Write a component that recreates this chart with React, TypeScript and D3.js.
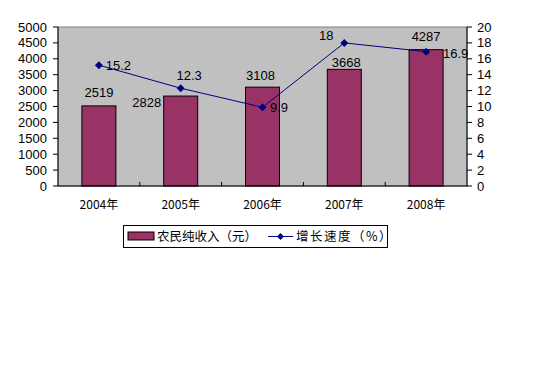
import React from "react";
import * as d3 from "d3";

const categories = ["2004年", "2005年", "2006年", "2007年", "2008年"];
const income = [2519, 2828, 3108, 3668, 4287];
const growth = [15.2, 12.3, 9.9, 18, 16.9];
const leftTicks = [0, 500, 1000, 1500, 2000, 2500, 3000, 3500, 4000, 4500, 5000];
const rightTicks = [0, 2, 4, 6, 8, 10, 12, 14, 16, 18, 20];
const legendLabels = ["农民纯收入（元）", "增长速度（%）"];

// label offsets (layout) relative to mark anchors: [dx, baseline dy]
const barLabelOffsets: [number, number][] = [[0, -9], [-34, 11], [-2, -7], [2, -2.5], [0, -9]];
// [dx, center dy]
const lineLabelOffsets: [number, number][] = [[19.5, 0], [8.5, -13], [16.5, 0], [-18, -7], [29.5, 2]];

export default function App() {
  const W = 536, H = 384;
  const left = 58, right = 467, top = 27, bottom = 186;
  const x = d3.scaleBand<string>().domain(categories).range([left, right]).paddingInner(0).paddingOuter(0);
  const bw = x.bandwidth();
  const barW = 34;
  const yL = d3.scaleLinear().domain([0, 5000]).range([bottom, top]);
  const yR = d3.scaleLinear().domain([0, 20]).range([bottom, top]);
  const line = d3.line<number>()
    .x((_, i) => (x(categories[i]) as number) + bw / 2)
    .y((d) => yR(d));
  const font = "'Liberation Sans', Arial, 'Noto Sans CJK SC', sans-serif";
  const cjk = "'Noto Sans CJK SC', 'Liberation Sans', sans-serif";
  const diamond = (cx: number, cy: number, r = 4) =>
    `M${cx},${cy - r}L${cx + r},${cy}L${cx},${cy + r}L${cx - r},${cy}Z`;

  return (
    <svg width={W} height={H} style={{ position: "absolute", left: 0, top: 0, background: "#fff" }}>
      <rect x={0} y={0} width={W} height={H} fill="#fff" />
      <rect x={left} y={top} width={right - left} height={bottom - top} fill="#c0c0c0" stroke="#808080" strokeWidth={1} />
      {/* bars */}
      {income.map((v, i) => {
        const cx = (x(categories[i]) as number) + bw / 2;
        return (
          <rect key={i} x={cx - barW / 2} y={yL(v)} width={barW} height={bottom - yL(v)}
            fill="#993366" stroke="#000" strokeWidth={1} />
        );
      })}
      {/* axes */}
      <line x1={left} y1={top} x2={left} y2={bottom} stroke="#000" />
      <line x1={right} y1={top} x2={right} y2={bottom} stroke="#000" />
      <line x1={left} y1={bottom} x2={right} y2={bottom} stroke="#000" />
      {leftTicks.map((t) => (
        <g key={"l" + t}>
          <line x1={left - 5} x2={left} y1={yL(t)} y2={yL(t)} stroke="#000" />
          <text x={left - 11} y={yL(t)} dy="0.35em" textAnchor="end" fontFamily={font} fontSize={13}>{t}</text>
        </g>
      ))}
      {rightTicks.map((t) => (
        <g key={"r" + t}>
          <line x1={right} x2={right + 5} y1={yR(t)} y2={yR(t)} stroke="#000" />
          <text x={right + 10} y={yR(t)} dy="0.35em" textAnchor="start" fontFamily={font} fontSize={13}>{t}</text>
        </g>
      ))}
      {categories.slice(1).map((c) => (
        <line key={"t" + c} x1={x(c) as number} x2={x(c) as number} y1={bottom - 4} y2={bottom} stroke="#000" />
      ))}
      {categories.map((c) => (
        <text key={"c" + c} x={(x(c) as number) + bw / 2} y={205} dy="0.35em" textAnchor="middle" fontFamily={cjk} fontSize={12}>{c}</text>
      ))}
      {/* line */}
      <path d={line(growth) || ""} fill="none" stroke="#000080" strokeWidth={1} />
      {growth.map((v, i) => {
        const cx = (x(categories[i]) as number) + bw / 2;
        return <path key={"m" + i} d={diamond(cx, yR(v))} fill="#000080" />;
      })}
      {/* bar labels */}
      {income.map((v, i) => {
        const cx = (x(categories[i]) as number) + bw / 2;
        const [dx, dy] = barLabelOffsets[i];
        return (
          <text key={"bl" + i} x={cx + dx} y={yL(v) + dy} textAnchor="middle" fontFamily={font} fontSize={13}>{v}</text>
        );
      })}
      {/* line labels */}
      {growth.map((v, i) => {
        const cx = (x(categories[i]) as number) + bw / 2;
        const [dx, dy] = lineLabelOffsets[i];
        return (
          <text key={"ll" + i} x={cx + dx} y={yR(v) + dy} dy="0.35em" textAnchor="middle" fontFamily={font} fontSize={13}>{v}</text>
        );
      })}
      {/* legend */}
      <rect x={123.5} y={225.5} width={264} height={22} fill="#fff" stroke="#000" />
      <rect x={128} y={232} width={26} height={8} fill="#993366" stroke="#000" strokeWidth={1} />
      <text x={157} y={236.5} dy="0.35em" fontFamily={cjk} fontSize={12.5}>{legendLabels[0]}</text>
      <line x1={268} x2={293} y1={236.5} y2={236.5} stroke="#000080" />
      <path d={diamond(280.5, 236.5, 3.5)} fill="#000080" />
      <text x={296} y={236.5} dy="0.35em" fontFamily={cjk} fontSize={12.5} letterSpacing={1.5}>{legendLabels[1]}</text>
    </svg>
  );
}
